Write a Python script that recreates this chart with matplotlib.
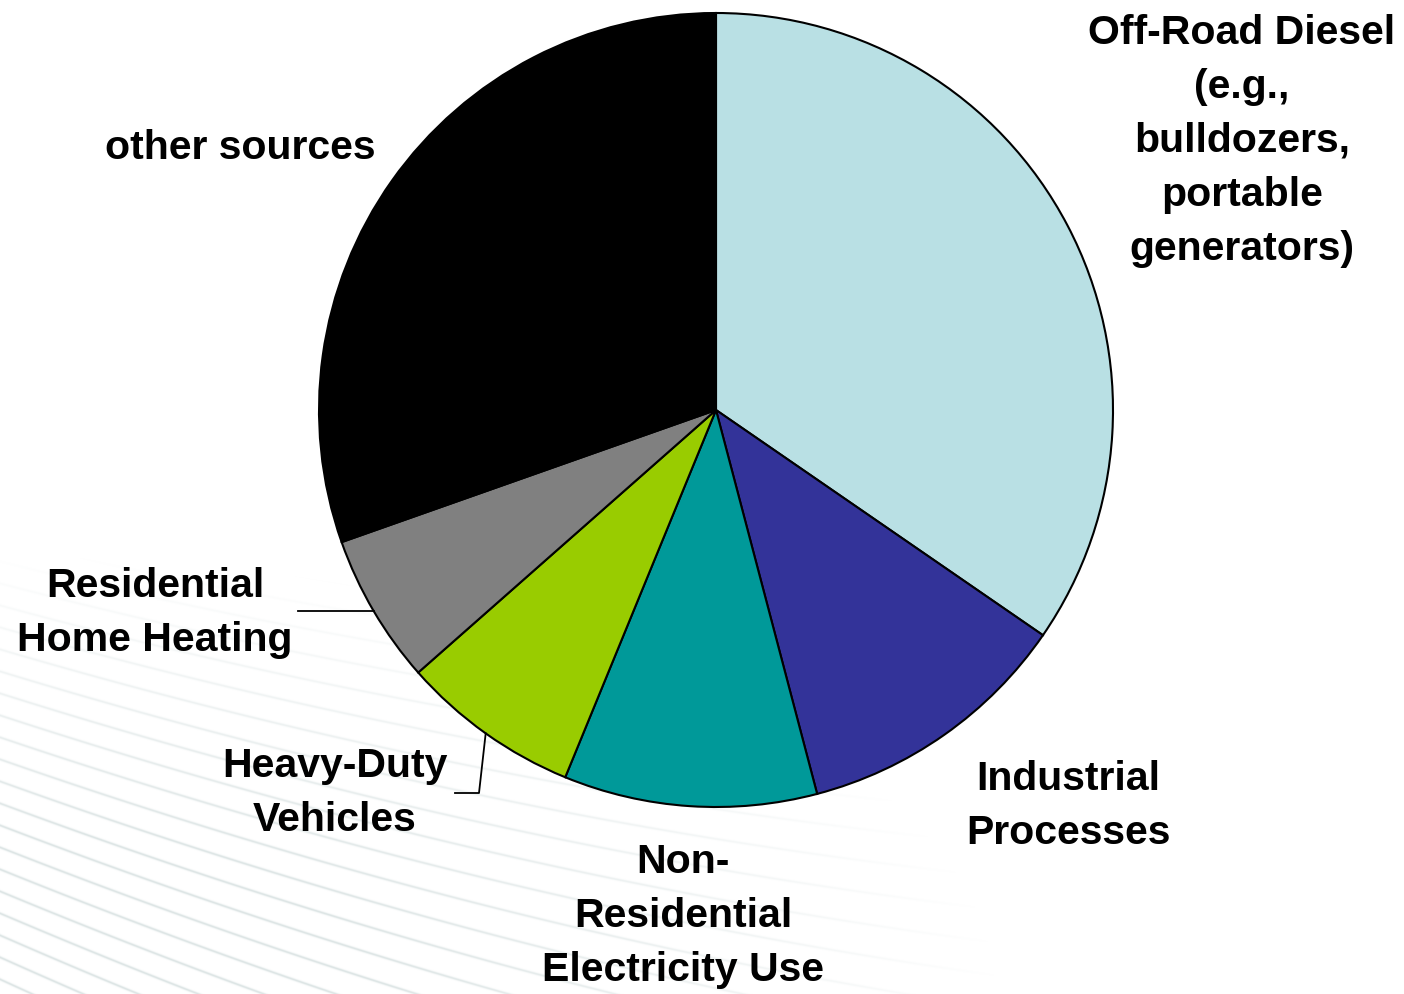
import numpy as np
import matplotlib
matplotlib.use("Agg")
import matplotlib.pyplot as plt

# emission shares by source (percent), clockwise from 12 o'clock
sources = ["Off-Road Diesel\n(e.g.,\nbulldozers,\nportable\ngenerators)",
           "Industrial\nProcesses",
           "Non-\nResidential\nElectricity Use",
           "Heavy-Duty\nVehicles",
           "Residential\nHome Heating",
           "other sources"]
shares = [34.6, 11.3, 10.3, 7.3, 6.1, 30.4]
colors = ["#b9e0e4", "#333399", "#009999", "#99cc00", "#808080", "#000000"]

W, H = 1404, 994
plt.rcParams['font.family'] = ['Liberation Sans', 'DejaVu Sans']

fig = plt.figure(figsize=(W / 100, H / 100), dpi=100)
ax = fig.add_axes([0, 0, 1, 1])

# faint background swoosh in the lower left: a fan of gently bending lines
yy, xx = np.mgrid[0:H, 0:W].astype(float)   # yy in pixel rows, top = 0
s0, k2, c = 0.30, 0.0005, 0.0001
y0 = (yy - (s0 - 660 * k2) * xx + c * xx ** 2) / (1 + k2 * xx)
slope = s0 + (y0 - 660) * k2 - 2 * c * xx
spacing = 22.0
ph = (np.mod(y0, spacing) - spacing / 2) * (1 + k2 * xx) / np.sqrt(1 + slope ** 2)
ink = np.exp(-ph ** 2 / (2 * 0.9 ** 2))
fade = np.clip(1 - np.sqrt((xx / 1000) ** 2 + ((H - yy) / 440) ** 2), 0, 1)
alpha = ink * np.clip(fade * 1.6, 0, 1) * 0.5
bg = np.zeros((H, W, 4))
bg[..., 0], bg[..., 1], bg[..., 2] = 0.74, 0.80, 0.80
bg[..., 3] = alpha
ax.imshow(bg, extent=(0, W, 0, H), origin="upper", zorder=0, interpolation="bilinear")

pc = (716, H - 410)
rad = 397
wedges, _ = ax.pie(shares, colors=colors, startangle=90, counterclock=False,
                   center=pc, radius=rad, frame=True,
                   wedgeprops=dict(edgecolor="black", linewidth=1.5))
for w in wedges:
    w.set_zorder(2)

ax.set_xlim(0, W)
ax.set_ylim(0, H)
ax.set_aspect("equal")
ax.axis("off")


def edge_point(w):
    a = np.deg2rad((w.theta1 + w.theta2) / 2)
    return pc[0] + rad * np.cos(a), pc[1] + rad * np.sin(a)


txt = dict(fontsize=29.5, fontweight="bold", ha="center", va="center",
           linespacing=1.54, color="black")
label_pos = [(1242, 141), (1068, 806), (683, 916), (335, 793), (155, 613), (240, 148)]
for name, (lx, ly) in zip(sources, label_pos):
    ax.text(lx, H - ly, name, **txt)

# leader lines
ex, ey = edge_point(wedges[4])
ax.plot([298, ex], [ey, ey], color="black", lw=1.3, zorder=3)
ex, ey = edge_point(wedges[3])
ax.plot([455, 479, ex], [H - 793, H - 793, ey], color="black", lw=1.3, zorder=3)

fig.savefig("out.png", dpi=100)
